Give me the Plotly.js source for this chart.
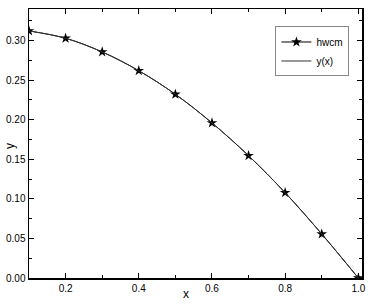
<!DOCTYPE html>
<html><head><meta charset="utf-8">
<script src="https://cdn.plot.ly/plotly-3.0.1.min.js"></script>
<style>html,body{margin:0;padding:0;background:#fff}#c{width:374px;height:308px}</style>
</head><body><div id="c"></div>
<script>
var xVals = [0.1, 0.2, 0.3, 0.4, 0.5, 0.6, 0.7, 0.8, 0.9, 1.0];
var hwcmVals = [0.3123, 0.3030, 0.2857, 0.2620, 0.2322, 0.1960, 0.1546, 0.1078, 0.0556, 0.0];
var yxVals = [0.3123, 0.3030, 0.2857, 0.2620, 0.2322, 0.1960, 0.1546, 0.1078, 0.0556, 0.0];
var seriesNames = ['hwcm', 'y(x)'];

var traces = [
  {x: xVals, y: hwcmVals, name: seriesNames[0], type: 'scatter', mode: 'lines+markers',
   line: {color: '#000', width: 1, shape: 'spline'},
   marker: {symbol: 'star', size: 8, color: '#000'}},
  {x: xVals, y: yxVals, name: seriesNames[1], type: 'scatter', mode: 'lines',
   line: {color: '#333', width: 1, shape: 'spline'}}
];

var axisBase = {showgrid: false, zeroline: false, showline: true, linecolor: '#000', linewidth: 1.5,
  mirror: 'ticks', ticks: 'inside', ticklen: 5, tickwidth: 1, tickcolor: '#000',
  tickfont: {family: 'Liberation Sans, Arial, sans-serif', size: 10, color: '#000'}};

var layout = {
  width: 374, height: 308,
  margin: {l: 29, r: 12, t: 9, b: 30},
  paper_bgcolor: '#fff', plot_bgcolor: '#fff',
  showlegend: true,
  legend: {x: 0.74, y: 0.935, xanchor: 'left', yanchor: 'top', bgcolor: '#fff',
    bordercolor: '#888', borderwidth: 1, font: {family: 'Liberation Sans, Arial, sans-serif', size: 10, color: '#000'},
    tracegroupgap: 0, itemwidth: 30},
  xaxis: Object.assign({}, axisBase, {range: [0.1, 1.01], tickvals: [0.2, 0.4, 0.6, 0.8, 1.0],
    ticktext: ['0.2', '0.4', '0.6', '0.8', '1.0'],
    minor: {ticks: 'inside', ticklen: 3, dtick: 0.1, tick0: 0, tickcolor: '#000'}}),
  yaxis: Object.assign({}, axisBase, {range: [0, 0.34], dtick: 0.05, tick0: 0, tickformat: '.2f',
    minor: {ticks: 'inside', ticklen: 3, dtick: 0.025, tick0: 0, tickcolor: '#000'}}),
  annotations: [
    {text: 'x', xref: 'paper', yref: 'paper', x: 0.471, y: -0.06, xanchor: 'center', yanchor: 'middle',
     showarrow: false, font: {family: 'Liberation Sans, Arial, sans-serif', size: 12, color: '#000'}},
    {text: 'y', xref: 'paper', yref: 'paper', x: -0.055, y: 0.49, xanchor: 'center', yanchor: 'middle',
     textangle: -90, showarrow: false, font: {family: 'Liberation Sans, Arial, sans-serif', size: 12, color: '#000'}}
  ]
};
Plotly.newPlot('c', traces, layout, {staticPlot: true});
</script></body></html>
